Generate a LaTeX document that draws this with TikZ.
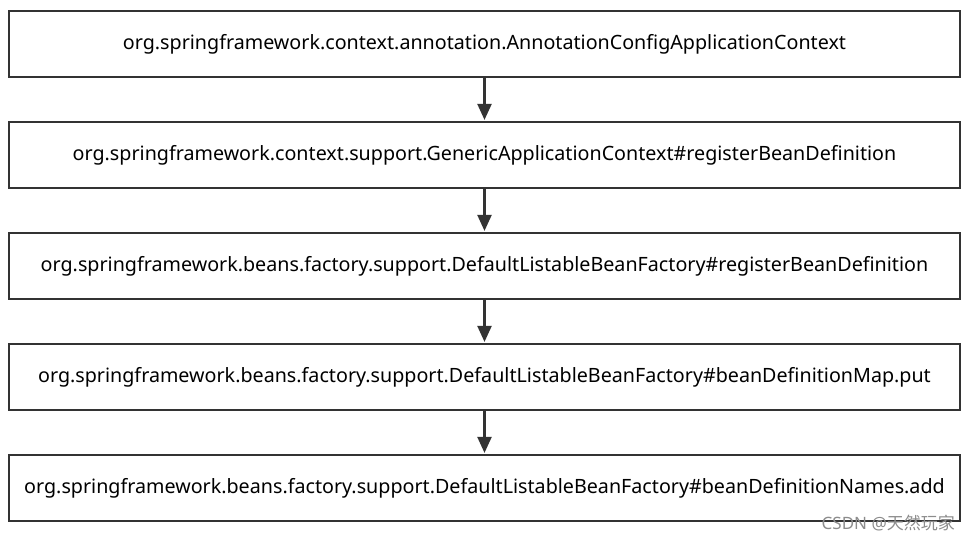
\documentclass[tikz,border=0pt]{standalone}
\usepackage{fontspec}
\setmainfont{Noto Sans}
\newfontfamily\cjkfont{Noto Sans CJK SC}
\usetikzlibrary{arrows.meta}
\definecolor{edge}{HTML}{333333}
\tikzset{
  stepbox/.style={draw=edge, line width=2.2pt, minimum width=951pt, minimum height=66pt, inner sep=0pt, font=\fontsize{19.7}{23}\selectfont, text=black},
  flow/.style={draw=edge, line width=2.2pt, -{Triangle[length=16pt,width=14pt]}, shorten >=1pt}
}
\begin{document}
\begin{tikzpicture}[x=1pt,y=-1pt]
\useasboundingbox (0,0) rectangle (970,542);
\node[stepbox] (b1) at (484.5,44) {org.springframework.context.annotation.AnnotationConfigApplicationContext};
\node[stepbox] (b2) at (484.5,155) {org.springframework.context.support.GenericApplicationContext\#registerBeanDefinition};
\node[stepbox] (b3) at (484.5,266) {org.springframework.beans.factory.support.DefaultListableBeanFactory\#registerBeanDefinition};
\node[stepbox] (b4) at (484.5,377) {org.springframework.beans.factory.support.DefaultListableBeanFactory\#beanDefinitionMap.put};
\node[stepbox] (b5) at (484.5,488) {org.springframework.beans.factory.support.DefaultListableBeanFactory\#beanDefinitionNames.add};
\draw[flow] (b1) -- (b2);
\draw[flow] (b2) -- (b3);
\draw[flow] (b3) -- (b4);
\draw[flow] (b4) -- (b5);
\node[anchor=east, text=black!45, font=\fontsize{17}{19}\selectfont, inner sep=0pt] (wm) at (955,523) {CSDN @\cjkfont 天然玩家};
\end{tikzpicture}
\end{document}
